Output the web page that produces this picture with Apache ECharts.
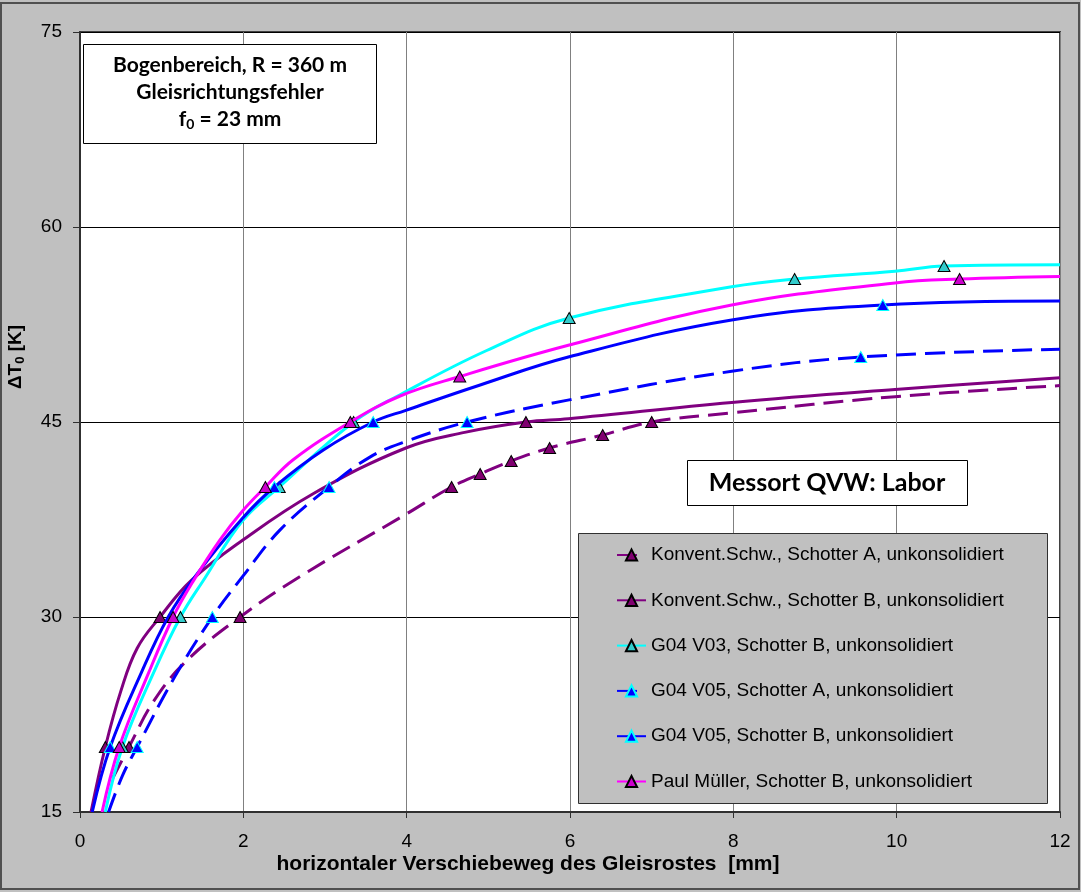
<!DOCTYPE html>
<html>
<head>
<meta charset="utf-8">
<script src="https://cdn.jsdelivr.net/npm/echarts@6/dist/echarts.min.js"></script>
<style>
  html, body { margin: 0; padding: 0; background: #c0c0c0; }
  #chart { width: 1081px; height: 892px; }
</style>
</head>
<body>
<div id="chart"></div>
<script>
// Axis ticks
const xTicks = [0, 2, 4, 6, 8, 10, 12];
const yTicks = [15, 30, 45, 60, 75];

// Series names (legend order)
const seriesNames = [
  'Konvent.Schw., Schotter A, unkonsolidiert',
  'Konvent.Schw., Schotter B, unkonsolidiert',
  'G04 V03, Schotter B, unkonsolidiert',
  'G04 V05, Schotter A, unkonsolidiert',
  'G04 V05, Schotter B, unkonsolidiert',
  'Paul Müller, Schotter B, unkonsolidiert'
];

// Fitted curve points [displacement mm, ΔT0 K]
const konventACurve = [[0.40, 17.6], [0.90, 23.5], [1.30, 26.6], [2.69, 33.1], [3.99, 37.9], [7.98, 45.7], [9.98, 46.95], [12, 47.8]];
const konventBCurve = [[0.135, 15], [0.50, 24.3], [0.70, 27.6], [1.36, 32.8], [1.99, 35.9], [2.86, 39.5], [3.99, 43.0], [4.71, 44.2], [5.98, 45.25], [7.98, 46.5], [9.98, 47.5], [12, 48.4]];
const v03Curve = [[0.31, 15], [0.90, 25.7], [1.53, 33.0], [1.99, 37.4], [3.92, 47.1], [4.98, 50.5], [7.98, 55.4], [9.98, 56.6], [12, 57.1]];
const v05ACurve = [[0.35, 15], [0.52, 17.8], [1.16, 25.4], [1.99, 33.1], [2.45, 36.7], [3.55, 42.3], [3.99, 43.5], [5.99, 46.7], [7.98, 48.9], [12, 50.6]];
const v05BCurve = [[0.15, 15], [0.75, 25.7], [1.08, 30.0], [1.42, 33.2], [1.99, 37.6], [2.98, 42.85], [3.99, 45.9], [4.90, 47.85], [5.98, 50.0], [7.98, 52.85], [12, 54.3]];
const muellerCurve = [[0.27, 15], [0.84, 25.7], [1.39, 32.8], [1.71, 35.9], [1.99, 38.15], [2.61, 42.1], [3.92, 47.0], [5.98, 50.9], [7.98, 54.0], [9.98, 55.7], [12, 56.2]];

// Measured points (drawn with triangle markers)
const konventAMarks = [[0.60, 20], [1.96, 30], [4.55, 40], [4.90, 41], [5.28, 42], [5.75, 43], [6.40, 44], [7.00, 45]];
const konventBMarks = [[0.31, 20], [0.98, 30], [5.46, 45]];
const v03Marks = [[0.52, 20], [1.23, 30], [2.44, 40], [3.35, 45], [5.99, 53], [8.75, 56], [10.58, 57]];
const v05AMarks = [[0.70, 20], [1.62, 30], [3.05, 40], [4.74, 45], [9.56, 50]];
const v05BMarks = [[0.37, 20], [2.38, 40], [3.59, 45], [9.83, 54]];
const muellerMarks = [[0.48, 20], [1.14, 30], [2.27, 40], [3.31, 45], [4.65, 48.5], [10.77, 56]];

const curves = [konventACurve, konventBCurve, v03Curve, v05ACurve, v05BCurve, muellerCurve];
const marks = [konventAMarks, konventBMarks, v03Marks, v05AMarks, v05BMarks, muellerMarks];

// Line and marker styles
const styles = [
  { line: '#800080', dash: [20, 9], fill: '#800070', border: '#000000' },
  { line: '#800080', dash: 'solid', fill: '#800070', border: '#000000' },
  { line: '#00ffff', dash: 'solid', fill: '#33cccc', border: '#000000' },
  { line: '#0000ff', dash: [20, 9], fill: '#0000ff', border: '#00ffff' },
  { line: '#0000ff', dash: 'solid', fill: '#0000ff', border: '#00ffff' },
  { line: '#ff00ff', dash: 'solid', fill: '#cc00cc', border: '#000000' }
];

function buildData(curve, mk) {
  const items = curve.map(p => ({ value: p, symbol: 'none' }))
    .concat(mk.map(p => ({ value: p })));
  items.sort((a, b) => a.value[0] - b.value[0]);
  return items;
}

const FONT = '"Liberation Sans", Arial, sans-serif';
const BOX_FONT = 'Lato, "Open Sans", sans-serif';

const series = seriesNames.map((name, i) => ({
  type: 'line',
  name: name,
  data: buildData(curves[i], marks[i]),
  smooth: 0.4,
  symbol: 'triangle',
  symbolSize: [12, 11],
  showSymbol: true,
  clip: true,
  z: 2 + i * 0.1,
  lineStyle: { color: styles[i].line, width: 3, type: styles[i].dash },
  itemStyle: { color: styles[i].fill, borderColor: styles[i].border, borderWidth: 1 },
  emphasis: { disabled: true }
}));

const chart = echarts.init(document.getElementById('chart'), null, { renderer: 'canvas' });

chart.setOption({
  animation: false,
  backgroundColor: '#c0c0c0',
  grid: {
    left: 80, right: 21, top: 32, bottom: 80,
    show: true, backgroundColor: '#ffffff', borderColor: '#404040', borderWidth: 2
  },
  xAxis: {
    type: 'value', min: xTicks[0], max: xTicks[xTicks.length - 1], interval: 2,
    axisLine: { show: true, onZero: false, lineStyle: { color: '#303030', width: 2 } },
    axisTick: { show: true, length: 6, lineStyle: { color: '#303030', width: 1 } },
    splitLine: { show: true, lineStyle: { color: '#808080', width: 1 } },
    axisLabel: { color: '#000', fontFamily: FONT, fontSize: 19, margin: 20 }
  },
  yAxis: {
    type: 'value', min: yTicks[0], max: yTicks[yTicks.length - 1], interval: 15,
    axisLine: { show: true, onZero: false, lineStyle: { color: '#303030', width: 2 } },
    axisTick: { show: true, length: 7, lineStyle: { color: '#303030', width: 1 } },
    splitLine: { show: true, lineStyle: { color: '#000000', width: 1 } },
    axisLabel: { color: '#000', fontFamily: FONT, fontSize: 19, margin: 18 }
  },
  legend: {
    orient: 'vertical', left: 616, top: 545, padding: 0,
    itemWidth: 29, itemHeight: 14, itemGap: 25.3,
    z: 10,
    selectedMode: false,
    data: seriesNames,
    textStyle: { color: '#000', fontFamily: FONT, fontSize: 19, lineHeight: 20 }
  },
  graphic: [
    // outer frame
    { type: 'rect', shape: { x: 1, y: 3, width: 1078, height: 886 }, style: { fill: 'none', stroke: '#505050', lineWidth: 2 }, z: 1 },
    // legend panel
    { type: 'rect', shape: { x: 578.5, y: 533.5, width: 469, height: 270 }, style: { fill: '#c0c0c0', stroke: '#303030', lineWidth: 1 }, z: 5 },
    // info box
    { type: 'rect', shape: { x: 83.5, y: 44.5, width: 293, height: 99 }, style: { fill: '#ffffff', stroke: '#000000', lineWidth: 1 }, z: 5 },
    { type: 'text', x: 230, y: 65, z: 6, style: { text: 'Bogenbereich, R = 360 m', fill: '#000', font: 'bold 21px ' + BOX_FONT, textAlign: 'center', textVerticalAlign: 'middle' } },
    { type: 'text', x: 230, y: 92, z: 6, style: { text: 'Gleisrichtungsfehler', fill: '#000', font: 'bold 21px ' + BOX_FONT, textAlign: 'center', textVerticalAlign: 'middle' } },
    { type: 'text', x: 230, y: 119, z: 6, style: {
        text: '{a|f}{s|0}{a| = 23 mm}', textAlign: 'center', textVerticalAlign: 'middle',
        rich: {
          a: { fontFamily: BOX_FONT, fontWeight: 'bold', fontSize: 21, color: '#000', lineHeight: 26 },
          s: { fontFamily: BOX_FONT, fontWeight: 'bold', fontSize: 14, color: '#000', lineHeight: 26, padding: [10, 0, 0, 0] }
        } } },
    // location box
    { type: 'rect', shape: { x: 687.5, y: 460.5, width: 280, height: 45 }, style: { fill: '#ffffff', stroke: '#000000', lineWidth: 1 }, z: 5 },
    { type: 'text', x: 827, y: 483, z: 6, style: { text: 'Messort QVW: Labor', fill: '#000', font: 'bold 25px ' + BOX_FONT, textAlign: 'center', textVerticalAlign: 'middle' } },
    // x axis title
    { type: 'text', x: 528, y: 864, z: 6, style: { text: 'horizontaler Verschiebeweg des Gleisrostes  [mm]', fill: '#000', font: 'bold 21px ' + FONT, textAlign: 'center', textVerticalAlign: 'middle' } },
    // y axis title
    { type: 'text', x: 16, y: 357, rotation: Math.PI / 2, z: 6, style: {
        text: '{a|ΔT}{s|0}{a| [K]}', textAlign: 'center', textVerticalAlign: 'middle',
        rich: {
          a: { fontFamily: FONT, fontWeight: 'bold', fontSize: 19, color: '#000', lineHeight: 24 },
          s: { fontFamily: FONT, fontWeight: 'bold', fontSize: 13, color: '#000', lineHeight: 24, padding: [8, 0, 0, 0] }
        } } }
  ],
  series: series
});
</script>
</body>
</html>
